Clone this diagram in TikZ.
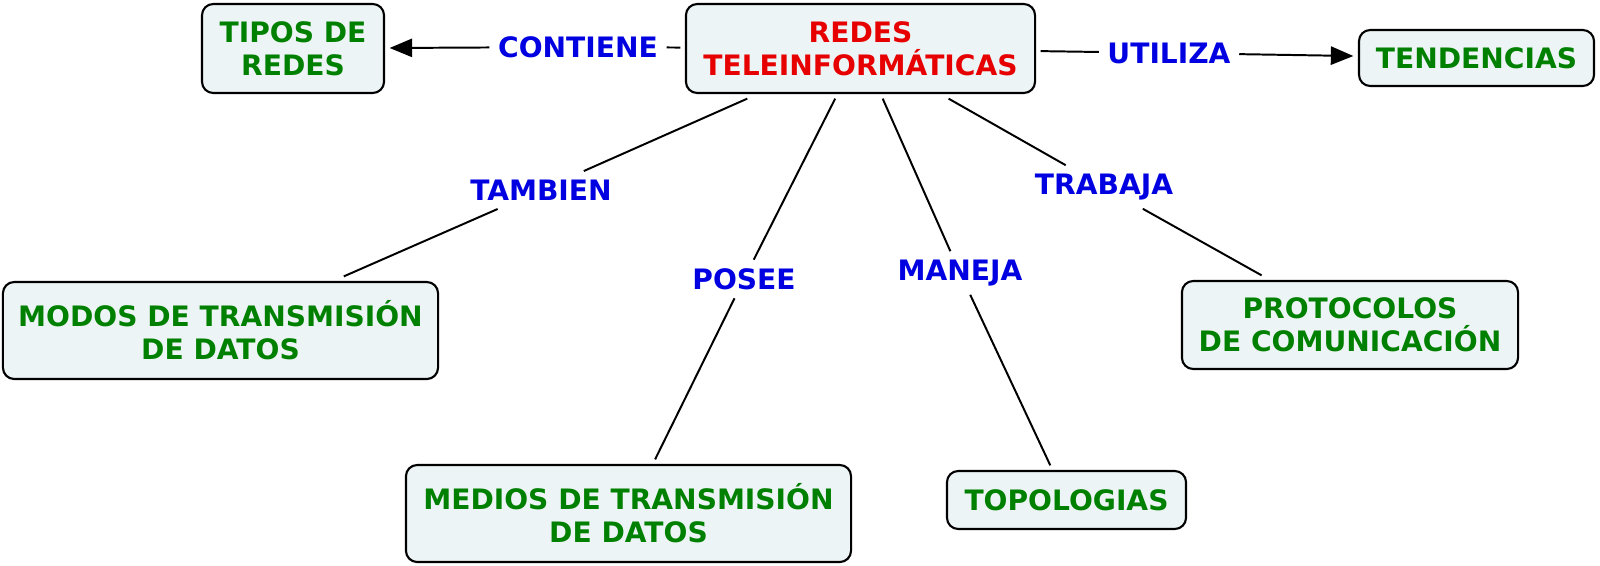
\documentclass[tikz,border=0pt]{standalone}
\usepackage{fontspec}
\setmainfont{DejaVu Sans}
\usetikzlibrary{arrows.meta}
\definecolor{conceptgreen}{RGB}{0,128,0}
\definecolor{rootred}{RGB}{230,0,0}
\definecolor{linkblue}{RGB}{0,0,225}
\definecolor{boxfill}{RGB}{237,244,245}

\begin{document}
\begin{tikzpicture}[
    x=0.025cm, y=-0.025cm,
    concept/.style={draw, line width=1.5pt, rounded corners=8pt, align=center, fill=boxfill,
        text=conceptgreen, font=\bfseries\fontsize{20}{23.5}\selectfont, inner sep=0pt, outer sep=4pt},
    linkword/.style={text=linkblue, font=\bfseries\fontsize{20}{23.5}\selectfont, inner sep=6pt},
    link/.style={line width=1.4pt},
    arrow/.style={link, -{Triangle[length=16pt,width=13pt]}}
]
\useasboundingbox (0,0) rectangle (1600,566);

% concepts
\node[concept, text=rootred, minimum width=8.725cm, minimum height=2.225cm] (redes) at (860.5,48.5) {REDES\\TELEINFORMÁTICAS};
\node[concept, minimum width=4.55cm, minimum height=2.225cm] (tipos) at (293,48.5) {TIPOS DE\\REDES};
\node[concept, minimum width=5.875cm, minimum height=1.4cm] (tendencias) at (1476.5,58) {TENDENCIAS};
\node[concept, minimum width=10.875cm, minimum height=2.425cm] (modos) at (220.5,330.5) {MODOS DE TRANSMISIÓN\\DE DATOS};
\node[concept, minimum width=11.125cm, minimum height=2.425cm] (medios) at (628.5,513.5) {MEDIOS DE TRANSMISIÓN\\DE DATOS};
\node[concept, minimum width=5.975cm, minimum height=1.45cm] (topologias) at (1066.5,500) {TOPOLOGIAS};
\node[concept, minimum width=8.4cm, minimum height=2.2cm] (protocolos) at (1350,325) {PROTOCOLOS\\DE COMUNICACIÓN};

% linking words
\node[linkword] (contiene) at (578,47) {CONTIENE};
\node[linkword] (utiliza) at (1169,53) {UTILIZA};
\node[linkword] (tambien) at (541,190) {TAMBIEN};
\node[linkword] (posee) at (744,279) {POSEE};
\node[linkword] (maneja) at (960,273) {MANEJA};
\node[linkword] (trabaja) at (1104,187) {TRABAJA};

% connectors
\draw[link] (redes) -- (contiene);
\draw[arrow] (contiene) -- (tipos);
\draw[link] (redes) -- (utiliza);
\draw[arrow] (utiliza) -- (tendencias);
\draw[link] (redes) -- (tambien) -- (modos);
\draw[link] (redes) -- (posee) -- (medios);
\draw[link] (redes) -- (maneja) -- (topologias);
\draw[link] (redes) -- (trabaja) -- (protocolos);
\end{tikzpicture}
\end{document}
